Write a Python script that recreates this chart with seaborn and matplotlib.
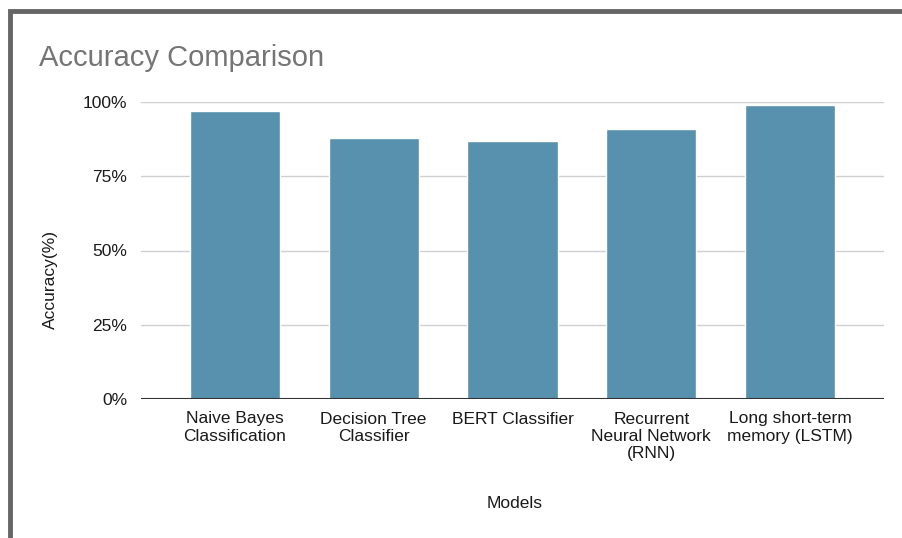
import matplotlib
matplotlib.use('Agg')
import matplotlib.pyplot as plt
from matplotlib.patches import Rectangle
from matplotlib.ticker import PercentFormatter
import pandas as pd
import seaborn as sns

# data
models = ['Naive Bayes\nClassification', 'Decision Tree\nClassifier', 'BERT Classifier',
          'Recurrent\nNeural Network\n(RNN)', 'Long short-term\nmemory (LSTM)']
accuracy = [97, 88, 87, 91, 99]
y_ticks = [0, 25, 50, 75, 100]

df = pd.DataFrame({'Models': models, 'Accuracy': accuracy})

sns.set_style('white')
plt.rcParams['font.family'] = ['Liberation Sans', 'DejaVu Sans']

fig = plt.figure(figsize=(9.02, 5.38), dpi=100)
ax = fig.add_axes([141 / 902, 1 - 399 / 538, 743 / 902, 297 / 538])

sns.barplot(data=df, x='Models', y='Accuracy', color='#5891ae', width=0.65,
            saturation=1, ax=ax, zorder=3)

ax.set_ylim(0, 100)
ax.set_xlim(-0.676, 4.676)
ax.set_yticks(y_ticks)
ax.yaxis.set_major_formatter(PercentFormatter(decimals=0))
ax.grid(axis='y', color='#cfcfcf', linewidth=1.0, zorder=0)
ax.axhline(0, color='#333333', linewidth=1.5, zorder=4)
for s in ax.spines.values():
    s.set_visible(False)
ax.tick_params(axis='both', length=0, labelsize=12.5, colors='#1a1a1a')
ax.tick_params(axis='x', pad=9)
ax.tick_params(axis='y', pad=10)
for lbl in ax.get_xticklabels():
    lbl.set_linespacing(1.2)

ax.set_xlabel('Models', fontsize=12.5, color='#1a1a1a')
ax.set_ylabel('Accuracy(%)', fontsize=12.5, color='#1a1a1a')
ax.xaxis.set_label_coords(0.503, -0.325)
ax.yaxis.set_label_coords(-0.112, 0.404)

fig.text(39 / 902, 1 - 58 / 538, 'Accuracy Comparison', fontsize=21, color='#757575',
         va='center', ha='left')

# dark frame on top and left edges
fig.add_artist(Rectangle((10 / 902, -0.1), 1.2, 1.1 - 11 / 538, transform=fig.transFigure,
                         fill=False, edgecolor='#666666', linewidth=3.5))

fig.savefig('out.png', dpi=100)
